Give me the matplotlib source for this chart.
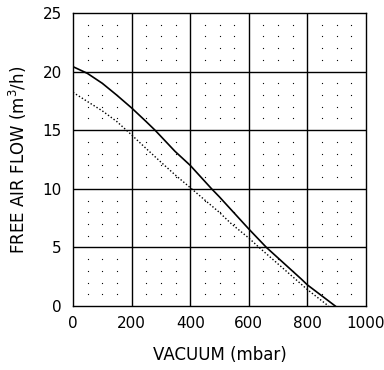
import numpy as np
import matplotlib
matplotlib.use("Agg")
import matplotlib.pyplot as plt

# Data
solid_x = [0, 49, 100, 149, 200, 249, 280, 299, 348, 400, 473, 499, 600, 660, 780, 800, 895]
solid_y = [20.42, 19.85, 19.0, 18.0, 16.9, 15.75, 15.0, 14.5, 13.2, 12.0, 10.0, 9.33, 6.57, 5.0, 2.28, 1.8, 0.0]
dotted_x = [0, 49, 100, 149, 200, 249, 299, 348, 400, 499, 541, 600, 635, 800, 872]
dotted_y = [18.23, 17.45, 16.65, 15.75, 14.6, 13.45, 12.3, 11.2, 10.1, 8.0, 7.0, 5.8, 5.0, 1.4, 0.0]

x_ticks = [0, 200, 400, 600, 800, 1000]
y_ticks = [0, 5, 10, 15, 20, 25]

fig = plt.figure(figsize=(3.84, 3.70), dpi=100)
ax = fig.add_axes([73/384, 1-306/370, (366-73)/384, (306-13)/370])

# dotted minor grid
mx = [v for v in range(50, 1000, 50) if v % 200 != 0]
my = [v for v in range(1, 25) if v % 5 != 0]
gx, gy = np.meshgrid(mx, my)
ax.scatter(gx.ravel(), gy.ravel(), s=0.8, color="black", linewidths=0, zorder=1)

for xv in x_ticks[1:-1]:
    ax.axvline(xv, color="black", lw=1.0, zorder=1)
for yv in y_ticks[1:-1]:
    ax.axhline(yv, color="black", lw=1.0, zorder=1)

ax.plot(solid_x, solid_y, color="black", lw=1.2, zorder=3)
ax.plot(dotted_x, dotted_y, color="black", lw=1.0, linestyle=(0, (1, 1.5)), zorder=3)

ax.set_xlim(0, 1000)
ax.set_ylim(0, 25)
ax.set_xticks(x_ticks)
ax.set_yticks(y_ticks)
ax.tick_params(length=0, labelsize=11)
ax.tick_params(axis="x", pad=7)
ax.tick_params(axis="y", pad=8)
for s in ax.spines.values():
    s.set_linewidth(1.0)

ax.set_xlabel("VACUUM (mbar)", fontsize=12, labelpad=11)
ax.set_ylabel("FREE AIR FLOW (m$^3$/h)", fontsize=12, labelpad=10)

fig.savefig("out.png", dpi=100)
